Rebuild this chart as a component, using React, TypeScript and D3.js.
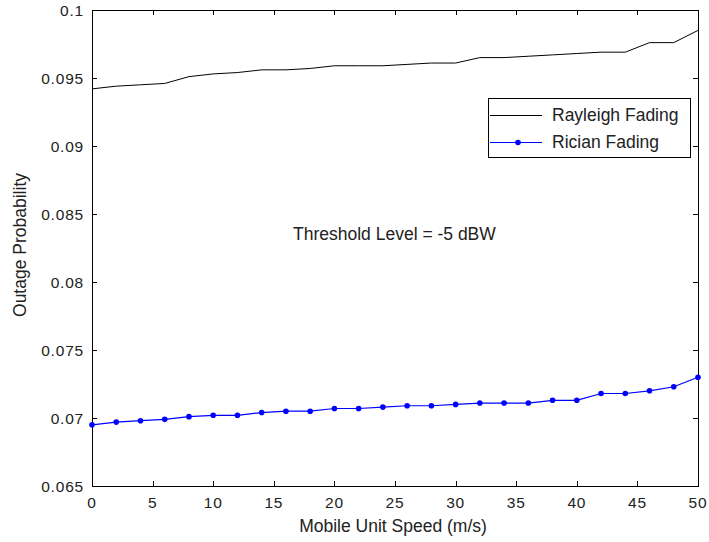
import React, { useEffect, useRef } from 'react';
import * as d3 from 'd3';

// mobile unit speed (m/s)
const speeds = [0, 2, 4, 6, 8, 10, 12, 14, 16, 18, 20, 22, 24, 26, 28, 30, 32, 34, 36, 38, 40, 42, 44, 46, 48, 50];
const rayleigh = [0.0942, 0.0944, 0.0945, 0.0946, 0.0951, 0.0953, 0.0954, 0.0956, 0.0956, 0.0957, 0.0959, 0.0959, 0.0959,
    0.0960, 0.0961, 0.0961, 0.0965, 0.0965, 0.0966, 0.0967, 0.0968, 0.0969, 0.0969, 0.0976, 0.0976, 0.0985];
const rician = [0.0695, 0.0697, 0.0698, 0.0699, 0.0701, 0.0702, 0.0702, 0.0704, 0.0705, 0.0705, 0.0707, 0.0707, 0.0708,
    0.0709, 0.0709, 0.0710, 0.0711, 0.0711, 0.0711, 0.0713, 0.0713, 0.0718, 0.0718, 0.0720, 0.0723, 0.0730];
const xTicks = [0, 5, 10, 15, 20, 25, 30, 35, 40, 45, 50];
const yTicks = [0.065, 0.07, 0.075, 0.08, 0.085, 0.09, 0.095, 0.1];
const yTickLabels = ['0.065', '0.07', '0.075', '0.08', '0.085', '0.09', '0.095', '0.1'];
const legendNames = ['Rayleigh Fading', 'Rician Fading'];

const W = 709;
const H = 542;
const labelFont = '"Liberation Sans", Arial, sans-serif';

export default function App() {
    const ref = useRef<SVGSVGElement>(null);

    useEffect(() => {
        const svg = d3.select(ref.current);
        svg.selectAll('*').remove();

        const margin = { top: 10, right: 11, bottom: 56, left: 92 };
        const x = d3.scaleLinear().domain([0, 50]).range([margin.left, W - margin.right]);
        const y = d3.scaleLinear().domain([0.065, 0.1]).range([H - margin.bottom, margin.top]);
        const [x0, x1] = x.range();
        const [y0, y1] = y.range();

        svg.append('rect').attr('width', W).attr('height', H).attr('fill', '#fff');

        // ticks on all four sides, pointing inward
        const tk = 5;
        const g = svg.append('g').attr('stroke', '#000').attr('stroke-width', 1).attr('shape-rendering', 'crispEdges');
        xTicks.forEach(t => {
            const px = Math.round(x(t)) + 0.5;
            g.append('line').attr('x1', px).attr('x2', px).attr('y1', y0).attr('y2', y0 - tk);
            g.append('line').attr('x1', px).attr('x2', px).attr('y1', y1).attr('y2', y1 + tk);
        });
        yTicks.forEach(t => {
            const py = Math.round(y(t)) + 0.5;
            g.append('line').attr('x1', x0).attr('x2', x0 + tk).attr('y1', py).attr('y2', py);
            g.append('line').attr('x1', x1).attr('x2', x1 - tk).attr('y1', py).attr('y2', py);
        });
        g.append('rect')
            .attr('x', x0 + 0.5).attr('y', y1 + 0.5)
            .attr('width', x1 - x0).attr('height', y0 - y1)
            .attr('fill', 'none');

        // tick labels
        svg.append('g').selectAll('text').data(xTicks).enter().append('text')
            .attr('x', d => x(d)).attr('y', y0 + 22)
            .attr('text-anchor', 'middle')
            .attr('font-family', labelFont).attr('font-size', 15.5).attr('letter-spacing', 0.8).attr('fill', '#222')
            .text(d => d);
        svg.append('g').selectAll('text').data(yTicks).enter().append('text')
            .attr('x', x0 - 8).attr('y', d => y(d) + 5.5)
            .attr('text-anchor', 'end')
            .attr('font-family', labelFont).attr('font-size', 15.5).attr('letter-spacing', 0.8).attr('fill', '#222')
            .text((d, i) => yTickLabels[i]);

        // axis titles
        svg.append('text')
            .attr('x', (x0 + x1) / 2 - 2).attr('y', 532)
            .attr('text-anchor', 'middle')
            .attr('font-family', labelFont).attr('font-size', 17.5).attr('fill', '#222')
            .text('Mobile Unit Speed (m/s)');
        svg.append('text')
            .attr('transform', `translate(26, ${(y0 + y1) / 2 - 3}) rotate(-90)`)
            .attr('text-anchor', 'middle')
            .attr('font-family', labelFont).attr('font-size', 17.5).attr('fill', '#222')
            .text('Outage Probability');

        const line = d3.line<number>().x((d, i) => x(speeds[i])).y(d => y(d));

        svg.append('path').datum(rayleigh)
            .attr('d', line)
            .attr('fill', 'none').attr('stroke', '#000').attr('stroke-width', 1);

        svg.append('path').datum(rician)
            .attr('d', line)
            .attr('fill', 'none').attr('stroke', '#0000ff').attr('stroke-width', 1.2);
        svg.append('g').selectAll('circle').data(rician).enter().append('circle')
            .attr('cx', (d, i) => x(speeds[i])).attr('cy', d => y(d))
            .attr('r', 2.8).attr('fill', '#0000ff');

        svg.append('text')
            .attr('x', 293).attr('y', 240)
            .attr('font-family', labelFont).attr('font-size', 17.5).attr('fill', '#222')
            .text('Threshold Level = -5 dBW');

        // legend
        const lg = svg.append('g');
        lg.append('rect')
            .attr('x', 488.5).attr('y', 98.5).attr('width', 202).attr('height', 59)
            .attr('fill', '#fff').attr('stroke', '#000').attr('shape-rendering', 'crispEdges');
        const rows = [115, 142];
        lg.append('line').attr('x1', 490).attr('x2', 542).attr('y1', rows[0] + 0.5).attr('y2', rows[0] + 0.5)
            .attr('stroke', '#000');
        lg.append('line').attr('x1', 490).attr('x2', 542).attr('y1', rows[1] + 0.5).attr('y2', rows[1] + 0.5)
            .attr('stroke', '#0000ff').attr('stroke-width', 1.2);
        lg.append('circle').attr('cx', 518).attr('cy', rows[1] + 0.5).attr('r', 2.8).attr('fill', '#0000ff');
        lg.selectAll('text').data(legendNames).enter().append('text')
            .attr('x', 552).attr('y', (d, i) => rows[i] + 6)
            .attr('font-family', labelFont).attr('font-size', 17.5).attr('fill', '#222')
            .text(d => d);
    }, []);

    return (
        <svg ref={ref} width={W} height={H} style={{ position: 'absolute', left: 0, top: 0 }} />
    );
}
